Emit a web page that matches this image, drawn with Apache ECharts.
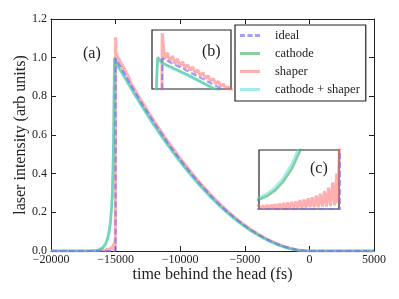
<!DOCTYPE html>
<html><head><meta charset="utf-8">
<script src="https://cdn.jsdelivr.net/npm/echarts@6/dist/echarts.min.js"></script>
<style>html,body{margin:0;padding:0;background:#fff}#c{width:399px;height:299px}</style>
</head><body><div id="c"></div>
<script>
// ---- data ----
const decayT = [-15000,-14500,-14000,-13500,-13000,-12500,-12000,-11500,-11000,-10500,-10000,-9500,-9000,-8500,-8000,-7500,-7000,-6500,-6000,-5500,-5000,-4500,-4000,-3500,-3000,-2500,-2000,-1500,-1000,-500,0,5000];

const idealT = [-20000,-15001].concat(decayT);
const idealY = [0,0,0.995,0.939,0.880,0.823,0.767,0.714,0.662,0.612,0.563,0.517,0.472,0.430,0.389,0.350,0.313,0.277,0.244,0.213,0.184,0.156,0.131,0.108,0.087,0.068,0.051,0.036,0.024,0.014,0.007,0.002,0,0];

const cathodeT = [-20000,-17000,-16500,-16250,-16000,-15900,-15800,-15700,-15600,-15500,-15400,-15300,-15250,-15200,-15150,-15110,-15090].concat(decayT);
const cathodeY = [0,0,0.002,0.006,0.016,0.022,0.032,0.047,0.068,0.098,0.145,0.23,0.30,0.42,0.62,0.88,1.0,
  0.975,0.922,0.864,0.808,0.753,0.700,0.649,0.600,0.552,0.506,0.462,0.420,0.380,0.341,0.305,0.270,0.237,0.207,0.178,0.151,0.127,0.104,0.084,0.065,0.049,0.034,0.022,0.012,0.005,0.001,0,0];

const bothT = [-20000,-17000,-16500,-16250,-16000,-15900,-15800,-15700,-15600,-15500,-15400,-15300,-15250,-15200,-15150,-15110,-15090].concat(decayT);
const bothY = [0,0,0.003,0.008,0.019,0.026,0.037,0.053,0.076,0.108,0.158,0.245,0.32,0.44,0.64,0.90,0.995,
  0.972,0.919,0.862,0.806,0.751,0.698,0.647,0.598,0.550,0.504,0.460,0.418,0.378,0.340,0.304,0.269,0.236,0.206,0.177,0.150,0.126,0.103,0.083,0.064,0.048,0.033,0.021,0.012,0.005,0.001,0,0];

const shaperT = [-20000,-16500,-16000,-15975,-15950,-15925,-15900,-15875,-15850,-15825,-15800,-15775,-15750,-15725,-15700,-15675,-15650,-15625,-15600,-15575,-15550,-15525,-15500,-15475,-15450,-15425,-15400,-15375,-15350,-15325,-15300,-15275,-15250,-15225,-15200,-15175,-15150,-15125,-15100,-15075,-15050,-15035,-15020,-15000,
  -14950,-14900,-14850,-14800,-14750,-14700,-14650,-14600,-14550,-14500,-14450,-14400,-14350,-14300,-14250,-14200,-14150,-14100,-14050,-14000,-13950,-13900,-13850,-13800,-13750,-13700,-13650,-13600,-13550,-13500,
  -13000,-12500,-12000,-11500,-11000,-10500,-10000,-9500,-9000,-8500,-8000,-7500,-7000,-6500,-6000,-5500,-5000,-4500,-4000,-3500,-3000,-2500,-2000,-1500,-1000,-500,0,5000];
const shaperY = [0,0.001,0.006,0.0,0.006,0.0,0.007,0.0,0.007,0.001,0.008,0.001,0.009,0.001,0.010,0.001,0.011,0.001,0.012,0.002,0.013,0.002,0.015,0.002,0.016,0.002,0.018,0.003,0.020,0.003,0.023,0.003,0.026,0.004,0.030,0.004,0.036,0.005,0.045,0.006,0.060,0.010,0.085,1.106,
  0.992,1.020,0.982,1.005,0.972,0.993,0.960,0.980,0.952,0.968,0.942,0.957,0.930,0.945,0.918,0.932,0.906,0.919,0.895,0.906,0.883,0.894,0.872,0.882,0.861,0.870,0.850,0.859,0.840,0.848,
  0.777,0.723,0.671,0.620,0.571,0.525,0.479,0.437,0.395,0.356,0.318,0.282,0.248,0.217,0.187,0.159,0.133,0.110,0.089,0.069,0.052,0.037,0.025,0.015,0.007,0.002,0,0];

const seriesNames = ['ideal','cathode','shaper','cathode + shaper'];
const xMin = -20000, xMax = 5000, xStep = 5000;
const yMin = 0, yMax = 1.2, yStep = 0.2;
const panelLabels = ['(a)','(b)','(c)'];
const xTitle = 'time behind the head (fs)';
const yTitle = 'laser intensity (arb units)';

// ---- build ----
const zip = (t, y) => t.map((v, i) => [v, y[i]]);
const SERIF = 'Liberation Serif';
const styles = [
  {color:'rgba(110,110,255,0.65)', width:2.2, type:[6,3]},
  {color:'rgba(60,170,90,0.6)', width:2.6, type:'solid'},
  {color:'rgba(255,110,110,0.55)', width:3, type:'solid'},
  {color:'rgba(90,220,220,0.55)', width:2.6, type:'solid'}
];
const datas = [zip(idealT, idealY), zip(cathodeT, cathodeY), zip(shaperT, shaperY), zip(bothT, bothY)];
const order = [2,1,3,0];

function mkSeries(gi, zbase) {
  return order.map((k, j) => ({
    type:'line', name: seriesNames[k], data: datas[k],
    xAxisIndex: gi === 0 ? 0 : gi + 1, yAxisIndex: gi === 0 ? 0 : gi + 1,
    showSymbol:false, symbol:'none', clip:true, z: zbase + j,
    lineStyle:{color:styles[k].color, width:styles[k].width, type:styles[k].type},
    itemStyle:{color:styles[k].color}, animation:false, silent:true
  }));
}

const solidIcon = 'path://M0,0h20v3h-20z';
const dashIcon = 'path://M0,0h5v3h-5z M7.5,0h5v3h-5z M15,0h5v3h-5z';

const tickStyle = {show:true, inside:true, length:5, lineStyle:{color:'#222', width:1}};
const lineStyleAx = {show:true, onZero:false, lineStyle:{color:'#222', width:1}};
const minus = v => (v < 0 ? '\u2212' + Math.abs(v) : String(v));

const option = {
  animation:false,
  backgroundColor:'#fff',
  grid:[
    {left:51, right:25, top:19, bottom:48, outerBoundsMode:'none'},
    {left:152, top:30, width:79, height:59, show:true, backgroundColor:'#fff', borderColor:'#222', borderWidth:1.2, z:20, outerBoundsMode:'none'},
    {left:259, top:150, width:80, height:59, show:true, backgroundColor:'#fff', borderColor:'#222', borderWidth:1.2, z:20, outerBoundsMode:'none'}
  ],
  xAxis:[
    {type:'value', gridIndex:0, position:'bottom', min:xMin, max:xMax, interval:xStep,
     axisLine:lineStyleAx, axisTick:tickStyle, splitLine:{show:false},
     axisLabel:{formatter:minus, fontFamily:SERIF, fontSize:12, color:'#222', margin:3}},
    {type:'value', gridIndex:0, position:'top', min:xMin, max:xMax, interval:xStep,
     axisLine:lineStyleAx, axisTick:tickStyle, splitLine:{show:false}, axisLabel:{show:false}},
    {type:'value', gridIndex:1, min:-15200, max:-13650, show:false, z:21},
    {type:'value', gridIndex:2, min:-16000, max:-15022, show:false, z:21}
  ],
  yAxis:[
    {type:'value', gridIndex:0, position:'left', min:yMin, max:yMax, interval:yStep,
     axisLine:lineStyleAx, axisTick:tickStyle, splitLine:{show:false},
     axisLabel:{formatter:v => v.toFixed(1), fontFamily:SERIF, fontSize:12, color:'#222', margin:4}},
    {type:'value', gridIndex:0, position:'right', min:yMin, max:yMax, interval:yStep,
     axisLine:lineStyleAx, axisTick:tickStyle, splitLine:{show:false}, axisLabel:{show:false}},
    {type:'value', gridIndex:1, min:0.86, max:1.12, show:false, z:21},
    {type:'value', gridIndex:2, min:0, max:0.1, show:false, z:21}
  ],
  legend:{
    data: seriesNames.map((n, i) => ({name:n, icon: i === 0 ? dashIcon : solidIcon})),
    orient:'vertical', left:235, top:25,
    backgroundColor:'#fff', borderColor:'#222', borderWidth:1.2, borderRadius:0,
    padding:[4,6,5,5], itemGap:5, itemWidth:20, itemHeight:12,
    textStyle:{fontFamily:SERIF, fontSize:12.5, color:'#222', padding:[0,0,0,10]}, z:40, selectedMode:false
  },
  graphic:[
    {type:'text', left:83, top:46, z:50, style:{text:panelLabels[0], font:'16px "Liberation Serif"', fill:'#222'}},
    {type:'text', left:202, top:44, z:50, style:{text:panelLabels[1], font:'16px "Liberation Serif"', fill:'#222'}},
    {type:'text', left:310, top:161, z:50, style:{text:panelLabels[2], font:'16px "Liberation Serif"', fill:'#222'}},
    {type:'text', x:212.5, y:275, z:50, style:{text:xTitle, font:'16px "Liberation Serif"', fill:'#222', align:'center', verticalAlign:'middle'}},
    {type:'text', x:21, y:135, rotation:Math.PI/2, z:50, style:{text:yTitle, font:'16px "Liberation Serif"', fill:'#222', align:'center', verticalAlign:'middle'}}
  ],
  series: mkSeries(0, 2).concat(mkSeries(1, 22)).concat(mkSeries(2, 22))
};
const chart = echarts.init(document.getElementById('c'), null, {renderer:'canvas'});
chart.setOption(option);
</script></body></html>
